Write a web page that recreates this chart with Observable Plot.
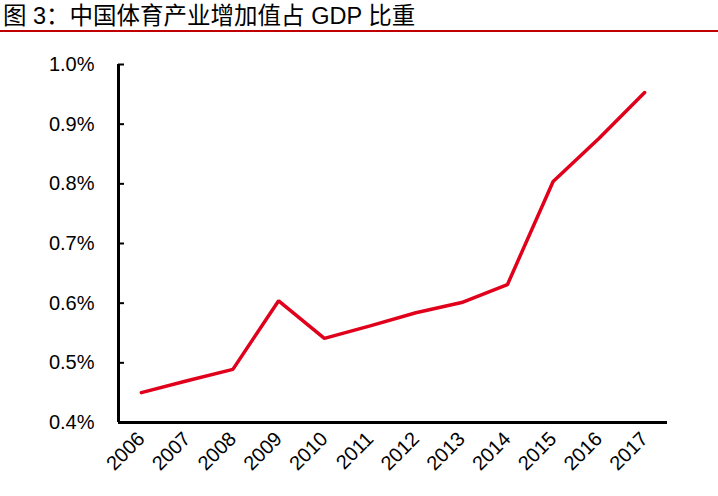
<!DOCTYPE html>
<html>
<head>
<meta charset="utf-8">
<script src="https://cdn.jsdelivr.net/npm/d3@7"></script>
<script src="https://cdn.jsdelivr.net/npm/@observablehq/plot@0.6"></script>
<style>
  html, body { margin: 0; padding: 0; background: #fff; }
  #wrap { width: 718px; height: 496px; position: relative; overflow: hidden; }
  #title {
    font-family: "Liberation Sans", "Noto Sans CJK SC", sans-serif;
    font-size: 23.5px; line-height: 26px; color: #000;
    padding: 3px 0 0 3px; height: 27px; box-sizing: content-box;
    border-bottom: 2px solid #c00000;
    white-space: nowrap;
  }
</style>
</head>
<body>
<div id="wrap">
  <div id="title">图 3：中国体育产业增加值占 GDP 比重</div>
  <div id="chart"></div>
</div>
<script>
const years = [2006, 2007, 2008, 2009, 2010, 2011, 2012, 2013, 2014, 2015, 2016, 2017];
const share = [0.450, 0.470, 0.489, 0.604, 0.541, 0.562, 0.584, 0.601, 0.631, 0.804, 0.876, 0.953];
const yTicks = [0.4, 0.5, 0.6, 0.7, 0.8, 0.9, 1.0];

const data = years.map((y, i) => ({year: y, value: share[i]}));

const plot = Plot.plot({
  width: 718,
  height: 464,
  marginTop: 32,
  marginBottom: 74,
  marginLeft: 118,
  marginRight: 51,
  style: {fontFamily: "'Liberation Sans', Arial, sans-serif", fontSize: "20px", color: "#000", background: "#fff", overflow: "visible"},
  x: {domain: [2005.5, 2017.5], ticks: years, tickFormat: d => String(d), label: null},
  y: {domain: [0.4, 1.0], ticks: yTicks, tickFormat: d => d.toFixed(1) + "%", label: null},
  marks: [
    Plot.axisY({ticks: yTicks, tickFormat: d => d.toFixed(1) + "%", tickSize: 6, anchor: "left", label: null, tickPadding: 24, strokeWidth: 2, dx: 6}),
    Plot.axisX({ticks: years, tickFormat: d => String(d), tickSize: 0, tickRotate: -45, label: null, tickPadding: 13, fontSize: 20}),
    Plot.ruleX([2005.5], {stroke: "#000", strokeWidth: 3}),
    Plot.ruleY([0.4], {stroke: "#000", strokeWidth: 3}),
    Plot.line(data, {x: "year", y: "value", stroke: "#e0001b", strokeWidth: 3.5, strokeLinejoin: "miter"})
  ]
});
document.getElementById("chart").appendChild(plot);
</script>
</body>
</html>
